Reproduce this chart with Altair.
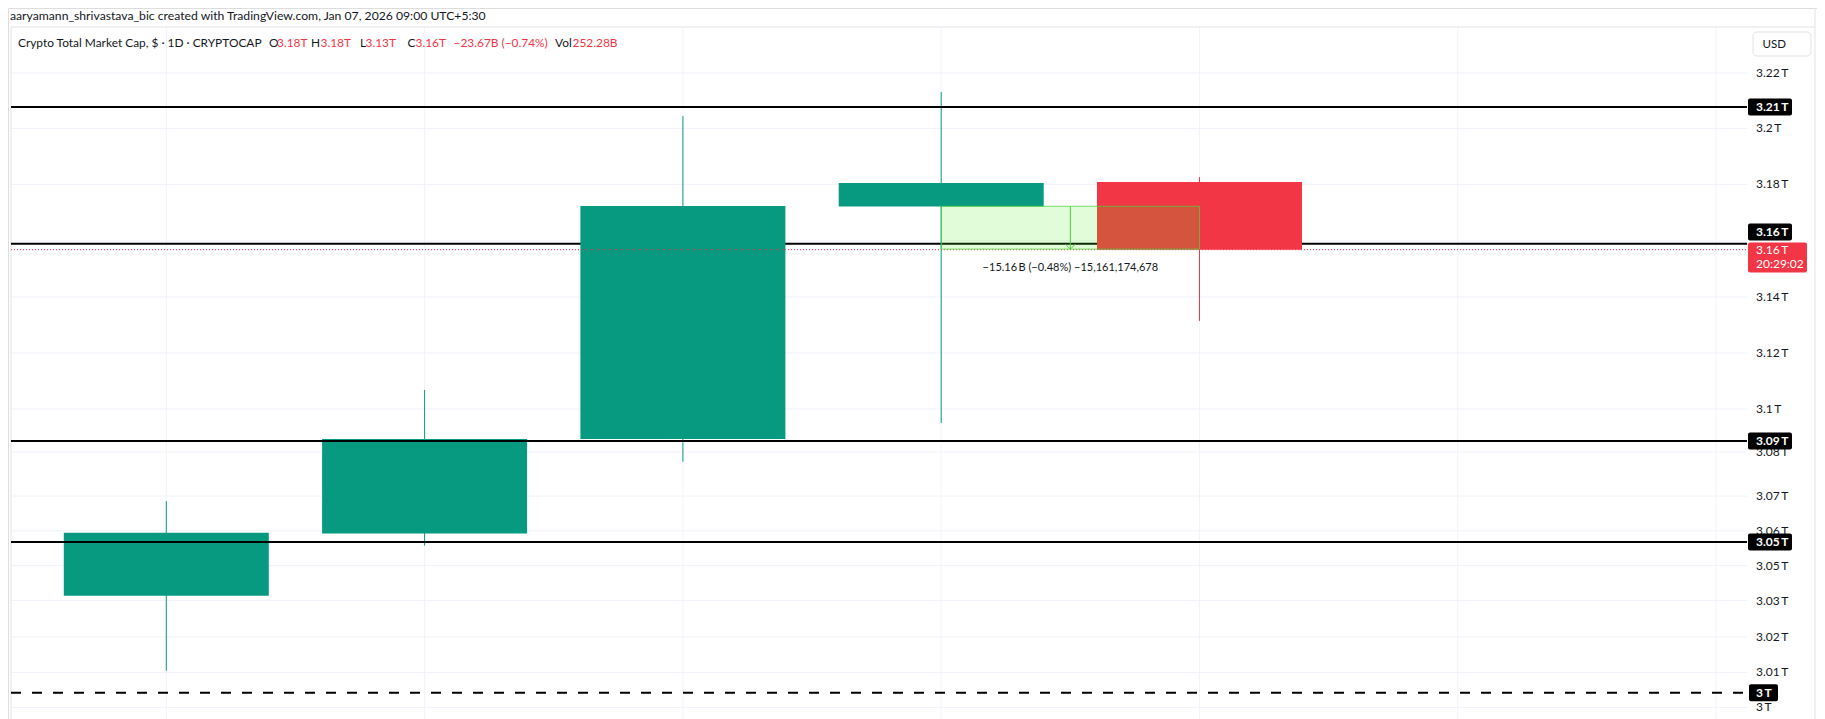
import altair as alt
import pandas as pd

# ---------------- data ----------------
days = ["2026-01-03", "2026-01-04", "2026-01-05", "2026-01-06", "2026-01-07"]
day_index = [0, 1, 2, 3, 4]
opens = [3.0333, 3.0555, 3.0893, 3.1723, 3.1811]
highs = [3.0671, 3.1068, 3.2046, 3.2132, 3.1828]
lows = [3.0065, 3.0512, 3.0812, 3.0950, 3.1315]
closes = [3.0558, 3.0893, 3.1725, 3.1807, 3.1569]

grid_days = [0, 1, 2, 3, 4, 5, 6]

tick_values = [3.22, 3.2002, 3.1802, 3.16, 3.14, 3.12, 3.10, 3.0846, 3.0689,
               3.0565, 3.0441, 3.0316, 3.0186, 3.0059, 2.9934]
# the 3.16 tick label is hidden behind the price boxes in the reference
tick_labels = ["3.22\u2009T", "3.2\u2009T", "3.18\u2009T", "", "3.14\u2009T",
               "3.12\u2009T", "3.1\u2009T", "3.08\u2009T", "3.07\u2009T", "3.06\u2009T",
               "3.05\u2009T", "3.03\u2009T", "3.02\u2009T", "3.01\u2009T", "3\u2009T"]

level_values = [3.2079, 3.1590, 3.0886, 3.0525]
level_labels = ["3.21\u2009T", "3.16\u2009T", "3.09\u2009T", "3.05\u2009T"]
dashed_level = [2.9987]
dashed_label = ["3\u2009T"]

last_price = [3.1569]
last_price_label = ["3.16\u2009T"]
countdown = ["20:29:02"]

measure_from = [3]
measure_to = [4]
measure_top = [3.1724]
measure_bottom = [3.1571]
measure_text = ["\u221215.16\u2009B (\u22120.48%) \u221215,161,174,678"]

header_text = "aaryamann_shrivastava_bic created with TradingView.com, Jan 07, 2026 09:00 UTC+5:30"
legend_parts = ["Crypto Total Market Cap, $ \u00b7 1D \u00b7 CRYPTOCAP", "O", "3.18T", "H", "3.18T",
                "L", "3.13T", "C", "3.16T", "\u221223.67B (\u22120.74%)", "Vol", "252.28B"]
legend_is_value = [False, False, True, False, True, False, True, False, True, True, False, True]

# ---------------- styles / layout ----------------
TEAL = "#089981"
RED = "#f23645"
DARK = "#131722"
GRID = "#f0f3fa"
BORDER = "#e0e3eb"
FONT = "Lato"
AX_FS = 12

W, H = 1809, 711
X_DOMAIN = [-0.61285, 6.39063]
Y_DOMAIN = [2.989286, 3.243214]
PANE_L, PANE_R, PANE_T = 3, 1739, 19
legend_x = [10, 261, 269, 303, 312.5, 352, 357.5, 399.5, 407.5, 445.5, 547, 564.5]

xs = alt.Scale(domain=X_DOMAIN, nice=False, zero=False)
ys = alt.Scale(domain=Y_DOMAIN, nice=False, zero=False)
noax = None

candles = pd.DataFrame({"day": days, "i": day_index, "open": opens, "high": highs,
                        "low": lows, "close": closes})
grid_v = pd.DataFrame({"i": grid_days})
ticks = pd.DataFrame({"v": tick_values, "label": tick_labels})
levels = pd.DataFrame({"v": level_values, "label": level_labels})
dashed = pd.DataFrame({"v": dashed_level, "label": dashed_label})
price = pd.DataFrame({"v": last_price, "label": last_price_label, "cd": countdown})
measure = pd.DataFrame({"a": measure_from, "b": measure_to, "top": measure_top,
                        "bottom": measure_bottom, "text": measure_text})
measure["mid"] = (measure["a"] + measure["b"]) / 2

X = lambda f: alt.X(f, type="quantitative", scale=xs, axis=noax)
Y = lambda f: alt.Y(f, type="quantitative", scale=ys, axis=noax)

one = pd.DataFrame({"k": [0]})
base_one = alt.Chart(one)

# grid
vgrid = alt.Chart(grid_v).mark_rule(color=GRID, strokeWidth=1).encode(
    x=X("i"), y=alt.value(PANE_T), y2=alt.value(H))
hgrid = alt.Chart(ticks).mark_rule(color=GRID, strokeWidth=1).encode(
    y=Y("v"), x=alt.value(PANE_L), x2=alt.value(PANE_R))

# frame
frame_left = base_one.mark_rule(color=BORDER).encode(x=alt.value(PANE_L), y=alt.value(PANE_T), y2=alt.value(H))
frame_top = base_one.mark_rule(color=BORDER).encode(y=alt.value(PANE_T), x=alt.value(PANE_L), x2=alt.value(1807))
frame_right = base_one.mark_rule(color=BORDER).encode(x=alt.value(1807), y=alt.value(0), y2=alt.value(H))

# level lines
lvl_below = alt.Chart(levels).transform_filter(alt.datum.label == "3.16\u2009T").mark_rule(
    color="black", strokeWidth=2).encode(y=Y("v"), x=alt.value(PANE_L), x2=alt.value(PANE_R))
lvl_above = alt.Chart(levels).transform_filter(alt.datum.label != "3.16\u2009T").mark_rule(
    color="black", strokeWidth=2).encode(y=Y("v"), x=alt.value(PANE_L), x2=alt.value(PANE_R))
lvl_dashed = alt.Chart(dashed).mark_rule(color="black", strokeWidth=2, strokeDash=[10, 11]).encode(
    y=Y("v"), x=alt.value(PANE_L), x2=alt.value(PANE_R))

# candles
col = alt.condition(alt.datum.close >= alt.datum.open, alt.value(TEAL), alt.value(RED))
wicks = alt.Chart(candles).mark_rule(strokeWidth=1).encode(
    x=X("i"), y=Y("low"), y2=alt.Y2("high"), color=col)
bodies = alt.Chart(candles).mark_rect(xOffset=-102.5, x2Offset=102.5).encode(
    x=X("i"), x2=alt.X2("i"), y=Y("open"), y2=alt.Y2("close"), color=col)

# current price dotted line
price_line = alt.Chart(price).mark_rule(color=RED, strokeWidth=1, strokeDash=[1, 2]).encode(
    y=Y("v"), x=alt.value(PANE_L), x2=alt.value(PANE_R))

# measurement tool
mbox = alt.Chart(measure).mark_rect(fill="#48ed18", fillOpacity=0.17, stroke="#4cd137",
                                    strokeOpacity=0.75, strokeWidth=1).encode(
    x=X("a"), x2=alt.X2("b"), y=Y("top"), y2=alt.Y2("bottom"))
marrow = alt.Chart(measure).mark_rule(color="#4cd137", strokeWidth=1).encode(
    x=X("mid"), y=Y("top"), y2=alt.Y2("bottom"))
mhead = alt.Chart(measure).mark_point(shape="M-1,-1L0,0L1,-1", filled=False, size=100,
                                      strokeWidth=1, color="#4cd137", opacity=1).encode(
    x=X("mid"), y=Y("bottom"))
mtext = alt.Chart(measure).mark_text(font=FONT, fontSize=11, color=DARK, align="center",
                                     baseline="middle", dy=19).encode(
    x=X("mid"), y=Y("bottom"), text="text:N")

# price axis labels
axis_labels = alt.Chart(ticks).transform_filter(alt.datum.label != "").mark_text(
    font=FONT, fontSize=AX_FS, color=DARK, align="left", baseline="middle").encode(
    x=alt.value(1748), y=Y("v"), text="label:N")

lv_norm = alt.Chart(levels).transform_filter(alt.datum.label != "3.16\u2009T")
lv_shift = alt.Chart(levels).transform_filter(alt.datum.label == "3.16\u2009T")
lbl_box1 = lv_norm.mark_rect(color="black", cornerRadius=2, yOffset=-8.5, y2Offset=8.5).encode(
    x=alt.value(1740), x2=alt.value(1784), y=Y("v"), y2=alt.Y2("v"))
lbl_txt1 = lv_norm.mark_text(font=FONT, fontSize=AX_FS, fontWeight="bold", color="white",
                             align="left", baseline="middle").encode(
    x=alt.value(1748), y=Y("v"), text="label:N")
lbl_box2 = lv_shift.mark_rect(color="black", cornerRadius=2, yOffset=-20.2, y2Offset=-3.2).encode(
    x=alt.value(1740), x2=alt.value(1784), y=Y("v"), y2=alt.Y2("v"))
lbl_txt2 = lv_shift.mark_text(font=FONT, fontSize=AX_FS, fontWeight="bold", color="white",
                              align="left", baseline="middle", dy=-11.7).encode(
    x=alt.value(1748), y=Y("v"), text="label:N")
lbl_box3 = alt.Chart(dashed).mark_rect(color="black", cornerRadius=2, yOffset=-8.5, y2Offset=8.5).encode(
    x=alt.value(1741), x2=alt.value(1770), y=Y("v"), y2=alt.Y2("v"))
lbl_txt3 = alt.Chart(dashed).mark_text(font=FONT, fontSize=AX_FS, fontWeight="bold", color="white",
                                       align="left", baseline="middle").encode(
    x=alt.value(1748), y=Y("v"), text="label:N")

# last price box
pbox = alt.Chart(price).mark_rect(color=RED, cornerRadius=2, yOffset=-7.3, y2Offset=22.7).encode(
    x=alt.value(1740), x2=alt.value(1799), y=Y("v"), y2=alt.Y2("v"))
ptxt1 = alt.Chart(price).mark_text(font=FONT, fontSize=AX_FS, color="white", align="left",
                                   baseline="middle", dy=0.5).encode(
    x=alt.value(1748), y=Y("v"), text="label:N")
ptxt2 = alt.Chart(price).mark_text(font=FONT, fontSize=AX_FS, color="white", align="left",
                                   baseline="middle", dy=14).encode(
    x=alt.value(1748), y=Y("v"), text="cd:N")

# USD box
usd_box = base_one.mark_rect(fill="white", stroke=BORDER, strokeWidth=1, cornerRadius=4).encode(
    x=alt.value(1745), x2=alt.value(1803), y=alt.value(24), y2=alt.value(48))
usd_txt = base_one.mark_text(font=FONT, fontSize=11.5, color=DARK, align="left", baseline="middle",
                             text="USD").encode(x=alt.value(1754.5), y=alt.value(37))

# header + legend
header = base_one.mark_text(font=FONT, fontSize=12.2, color=DARK, align="left", baseline="middle",
                            text=header_text).encode(x=alt.value(2), y=alt.value(7.5))
legend_layers = []
for txt, isv, lx in zip(legend_parts, legend_is_value, legend_x):
    legend_layers.append(
        base_one.mark_text(font=FONT, fontSize=11.9, color=RED if isv else DARK, align="left",
                           baseline="middle", text=txt).encode(x=alt.value(lx), y=alt.value(34.7)))

chart = alt.layer(
    vgrid, hgrid, frame_left, frame_top, frame_right,
    lvl_below, wicks, bodies, lvl_above, lvl_dashed, price_line,
    mbox, marrow, mhead, mtext,
    axis_labels, lbl_box1, lbl_txt1, lbl_box2, lbl_txt2, lbl_box3, lbl_txt3,
    pbox, ptxt1, ptxt2, usd_box, usd_txt, header, *legend_layers
).properties(
    width=W, height=H, padding=0,
    autosize=alt.AutoSizeParams(type="none")
).configure_view(stroke=None).configure(background="white")

chart.save("out.html", embed_options={"renderer": "svg", "actions": False})
